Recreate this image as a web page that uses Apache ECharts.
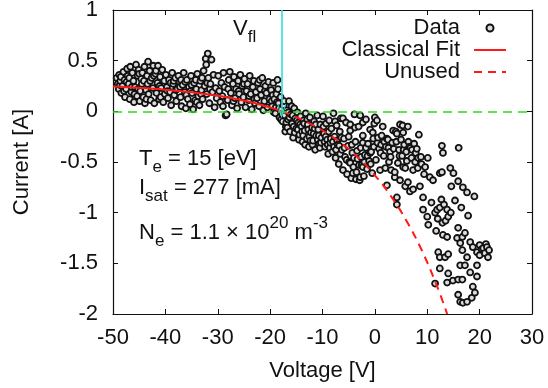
<!DOCTYPE html>
<html>
<head>
<meta charset="utf-8">
<script src="https://cdn.jsdelivr.net/npm/echarts@6/dist/echarts.min.js"></script>
<style>
  html, body { margin: 0; padding: 0; background: #fff; }
  #main { width: 548px; height: 388px; }
</style>
</head>
<body>
<div id="main"></div>
<script>
// measured probe points [voltage V, current A], split by voltage range
const pointsA = [
  [-49.3,0.33],[-49.1,0.27],[-48.9,0.22],[-48.8,0.36],[-48.7,0.26],[-48.6,0.30],[-48.5,0.34],[-48.4,0.18],[-48.2,0.25],
  [-48.0,0.39],[-47.9,0.20],[-47.8,0.31],[-47.7,0.14],[-47.5,0.22],[-47.4,0.29],[-47.3,0.42],[-47.2,0.35],[-47.0,0.27],
  [-46.9,0.33],[-46.8,0.12],[-46.7,0.44],[-46.5,0.19],[-46.4,0.24],[-46.3,0.38],[-46.1,0.30],[-46.0,0.09],[-45.9,0.17],
  [-45.8,0.24],[-45.6,0.46],[-45.4,0.15],[-45.3,0.35],[-45.2,0.22],[-45.1,0.41],[-45.0,0.37],[-44.9,0.10],[-44.8,0.20],
  [-44.6,0.32],[-44.5,0.27],[-44.4,0.38],[-44.2,0.14],[-44.1,0.30],[-44.0,0.44],[-43.9,0.08],[-43.7,0.21],[-43.6,0.12],
  [-43.5,0.35],[-43.4,0.27],[-43.3,0.49],[-43.2,0.17],[-43.0,0.40],[-42.9,0.30],[-42.8,0.11],[-42.6,0.33],[-42.4,0.23],
  [-42.3,0.45],[-42.2,0.35],[-42.1,0.08],[-41.9,0.37],[-41.8,0.40],[-41.7,0.18],[-41.5,0.28],[-41.4,0.45],[-41.2,0.12],
  [-41.1,0.25],[-41.0,0.34],[-40.9,0.14],[-40.8,0.23],[-40.6,0.41],[-40.4,0.09],[-40.2,0.30],[-40.1,0.17]
];
const pointsB = [
  [-39.9,0.36],[-39.7,0.24],[-39.6,0.20],[-39.5,0.13],[-39.3,0.31],[-39.1,0.19],[-39.0,0.28],[-38.9,0.06],[-38.7,0.38],
  [-38.5,0.27],[-38.4,0.30],[-38.3,0.16],[-38.1,0.33],[-38.0,0.21],[-37.9,0.10],[-37.7,0.22],[-37.5,0.35],[-37.3,0.29],
  [-37.2,0.24],[-37.1,0.14],[-37.0,0.31],[-36.9,0.05],[-36.7,0.26],[-36.5,0.38],[-36.3,0.19],[-36.2,0.29],[-36.1,0.03],
  [-36.0,0.16],[-35.9,0.31],[-35.7,0.12],[-35.5,0.24],[-35.3,0.07],[-35.2,0.20],[-35.1,0.35],[-35.0,0.26],[-34.9,0.18],
  [-34.7,0.02],[-34.5,0.28],[-34.3,0.11],[-34.2,0.31],[-34.1,0.22],[-34.0,0.09],[-33.9,0.37],[-33.7,0.15],[-33.5,0.06],
  [-33.3,0.30],[-33.2,0.17],[-33.1,0.21],[-33.0,0.33],[-32.9,0.12],[-32.7,0.40],[-32.5,0.25],[-32.3,0.52],[-32.2,0.46],
  [-32.1,0.17],[-32.0,0.28],[-31.9,0.57],[-31.8,0.33],[-31.6,0.08],[-31.5,0.22],[-31.4,0.27],[-31.2,0.51],[-31.0,0.19],
  [-30.8,0.36],[-30.6,0.04],[-30.4,0.23],[-30.2,0.13]
];
const pointsC = [
  [-29.9,0.35],[-29.7,0.20],[-29.5,0.09],[-29.3,0.28],[-29.1,0.15],[-29.0,0.05],[-28.9,0.38],[-28.7,0.24],[-28.5,-0.04],
  [-28.3,-0.03],[-28.1,0.11],[-28.0,0.22],[-27.9,0.31],[-27.7,0.39],[-27.5,0.18],[-27.3,0.06],[-27.1,0.27],[-27.0,0.10],
  [-26.9,0.34],[-26.7,0.13],[-26.5,0.22],[-26.3,0.03],[-26.1,0.30],[-26.0,0.20],[-25.9,0.17],[-25.7,0.36],[-25.5,0.09],
  [-25.3,0.25],[-25.1,0.14],[-25.0,0.27],[-24.9,0.32],[-24.7,0.04],[-24.5,0.20],[-24.3,0.27],[-24.1,0.11],[-24.0,0.15],
  [-23.9,0.35],[-23.7,0.17],[-23.5,0.02],[-23.3,0.24],[-23.1,0.30],[-23.0,0.12],[-22.9,0.08],[-22.7,0.19],[-22.5,0.13],
  [-22.3,0.28],[-22.1,0.05],[-22.0,0.31],[-21.9,0.22],[-21.7,0.16],[-21.5,0.33],[-21.3,0.01],[-21.1,0.10],[-21.0,0.20],
  [-20.9,0.25],[-20.7,0.18],[-20.5,0.04],[-20.3,0.29],[-20.1,0.12]
];
const pointsD = [
  [-19.8,0.21],[-19.7,0.10],[-19.6,0.05],[-19.5,0.16],[-19.4,0.28],[-19.3,-0.01],[-19.2,0.12],[-19.0,-0.02],[-18.9,0.04],
  [-18.8,0.17],[-18.7,0.09],[-18.6,0.31],[-18.5,0.22],[-18.4,0.08],[-18.3,0.03],[-18.2,-0.06],[-18.0,0.14],[-17.9,-0.08],
  [-17.8,0.02],[-17.7,-0.03],[-17.6,-0.10],[-17.4,0.06],[-17.3,0.10],[-17.2,-0.04],[-17.1,-0.20],[-17.0,-0.15],[-16.9,-0.11],
  [-16.8,0.01],[-16.7,-0.16],[-16.6,-0.08],[-16.5,-0.01],[-16.4,0.10],[-16.3,-0.06],[-16.2,-0.20],[-16.0,-0.03],[-15.9,0.05],
  [-15.8,-0.12],[-15.7,-0.04],[-15.6,-0.26],[-15.5,-0.15],[-15.4,0.03],[-15.3,-0.21],[-15.2,-0.07],[-15.0,-0.17],[-14.9,-0.09],
  [-14.8,-0.01],[-14.7,-0.18],[-14.6,-0.11],[-14.5,-0.28],[-14.4,-0.23],[-14.3,-0.13],[-14.2,-0.05],[-14.0,-0.15],[-13.9,-0.20],
  [-13.8,-0.30],[-13.7,-0.24],[-13.6,-0.09],[-13.5,-0.12],[-13.4,-0.19],[-13.3,-0.33],[-13.2,-0.02],[-13.0,-0.27],[-12.9,-0.08],
  [-12.8,-0.13],[-12.7,-0.18],[-12.6,-0.35],[-12.5,-0.25],[-12.4,-0.06],[-12.3,-0.29],[-12.2,-0.21],[-12.0,-0.16],[-11.9,-0.33],
  [-11.8,-0.29],[-11.7,-0.22],[-11.6,-0.10],[-11.5,-0.17],[-11.4,-0.38],[-11.3,-0.13],[-11.2,-0.24],[-11.0,-0.04],[-10.9,-0.28],
  [-10.8,-0.18],[-10.7,-0.24],[-10.6,-0.32],[-10.5,-0.36],[-10.4,-0.13],[-10.3,-0.31],[-10.2,-0.26]
];
const pointsE = [
  [-9.9,-0.05],[-9.8,-0.15],[-9.7,-0.22],[-9.6,-0.30],[-9.5,-0.35],[-9.4,-0.25],[-9.3,-0.12],[-9.1,-0.28],[-9.0,-0.33],
  [-8.9,-0.42],[-8.8,-0.20],[-8.7,-0.09],[-8.6,-0.36],[-8.5,-0.31],[-8.4,-0.27],[-8.3,-0.17],[-8.1,-0.40],[-8.0,-0.30],
  [-7.9,-0.02],[-7.8,-0.35],[-7.7,-0.25],[-7.6,-0.10],[-7.5,-0.46],[-7.4,-0.38],[-7.3,-0.14],[-7.2,-0.29],[-7.1,-0.33],
  [-6.9,-0.52],[-6.8,-0.34],[-6.7,-0.20],[-6.6,-0.42],[-6.5,-0.07],[-6.4,-0.26],[-6.3,-0.38],[-6.1,-0.58],[-6.1,-0.07],
  [-5.9,-0.27],[-5.8,-0.36],[-5.7,-0.45],[-5.5,-0.11],[-5.4,-0.48],[-5.3,-0.62],[-5.1,-0.34],[-5.0,-0.25],[-4.9,-0.50],
  [-4.7,-0.19],[-4.7,-0.13],[-4.7,-0.51],[-4.5,-0.66],[-4.4,-0.33],[-4.3,-0.41],[-4.2,-0.61],[-4.1,-0.55],[-4.0,-0.46],
  [-3.9,-0.03],[-3.8,-0.16],[-3.7,-0.30],[-3.6,-0.67],[-3.5,-0.60],[-3.4,-0.39],[-3.3,-0.47],[-3.1,-0.15],[-3.0,-0.53],
  [-2.9,-0.68],[-2.8,-0.04],[-2.8,-0.65],[-2.7,-0.36],[-2.6,-0.45],[-2.5,-0.53],[-2.3,-0.24],[-2.3,-0.11],[-2.3,-0.31],
  [-2.3,-0.55],[-2.1,-0.64],[-2.0,-0.50],[-1.9,-0.43],[-1.7,-0.08],[-1.7,-0.36],[-1.5,-0.57],[-1.4,-0.44],[-1.3,-0.32],
  [-1.1,-0.49],[-0.9,-0.18],[-0.9,-0.41],[-0.8,-0.52],[-0.7,-0.40],[-0.5,-0.61],[-0.4,-0.21],[-0.3,-0.27],[-0.2,-0.35],
  [-0.1,-0.12],[0.0,-0.06]
];
const pointsF = [
  [0.2,-0.48],[0.4,-0.09],[0.5,-0.31],[0.6,-0.26],[0.8,-0.37],[1.0,-0.58],[1.1,-0.41],[1.2,-0.33],[1.3,-0.24],[1.5,-0.15],
  [1.7,-0.44],[1.8,-0.30],[2.0,-0.56],[2.1,-0.35],[2.3,-0.27],[2.3,-0.73],[2.5,-0.28],[2.6,-0.36],[2.7,-0.50],[2.9,-0.40],
  [3.0,-0.45],[3.1,-0.58],[3.3,-0.31],[3.5,-0.19],[3.6,-0.37],[3.8,-0.65],[3.8,-0.60],[4.0,-0.20],[4.1,-0.30],[4.2,-0.85],
  [4.2,-0.92],[4.2,-0.22],[4.4,-0.51],[4.6,-0.38],[4.7,-0.44],[4.8,-0.13],[4.8,-0.68],[5.0,-0.28],[5.2,-0.44],[5.3,-0.14],
  [5.4,-0.21],[5.4,-0.55],[5.5,-0.38],[5.6,-0.33],[5.8,-0.74],[5.8,-0.56],[6.0,-0.40],[6.1,-0.49],[6.3,-0.15],[6.3,-0.70],
  [6.4,-0.30],[6.6,-0.35],[6.7,-0.79],[6.8,-0.36],[7.0,-0.46],[7.1,-0.38],[7.3,-0.58],[7.3,-0.77],[7.5,-0.32],[7.7,-0.50],
  [7.8,-0.41],[8.0,-0.37],[8.2,-0.56],[8.3,-0.46],[8.4,-0.23],[8.6,-0.74],[8.8,-0.45],[8.9,-0.52],[9.2,-0.85],[9.2,-0.97],
  [9.4,-0.62],[9.6,-0.55],[10.0,-1.04]
];
const pointsG = [
  [10.1,-0.46],[10.2,-1.12],[10.5,-0.65],[10.8,-0.90],[11.1,-0.68],[11.5,-1.70],[11.5,-1.00],[11.7,-1.18],[11.9,-0.97],
  [12.0,-1.06],[12.1,-1.39],[12.4,-0.61],[12.4,-0.95],[12.4,-1.44],[12.4,-1.55],[12.7,-0.87],[12.8,-0.34],[12.8,-0.60],
  [12.9,-1.10],[13.0,-0.41],[13.0,-1.22],[13.2,-0.92],[13.4,-1.44],[13.5,-1.08],[13.8,-0.97],[13.8,-1.24],[13.8,-1.69],
  [14.0,-1.04],[14.0,-1.41],[14.0,-1.60],[14.4,-0.56],[14.5,-1.00],[14.6,-0.74],[14.9,-1.67],[15.0,-0.61],[15.3,-0.88],
  [15.7,-1.25],[15.9,-0.69],[15.9,-1.15],[15.9,-1.66],[15.9,-1.81],[16.0,-0.36],[16.3,-1.30],[16.3,-1.52],[16.3,-1.88],
  [16.5,-0.95],[16.7,-1.24],[16.7,-1.37],[16.7,-1.66],[16.8,-0.75],[16.8,-1.89],[17.2,-1.20],[17.2,-1.52],[17.6,-0.80],
  [17.6,-1.44],[17.6,-1.88],[17.8,-1.03],[18.2,-1.29],[18.2,-1.59],[18.5,-1.84],[18.7,-1.34],[18.7,-1.73],[19.0,-0.84],
  [19.1,-1.79],[19.5,-1.39],[19.5,-1.52],[19.5,-1.63],[20.0,-1.32],[20.0,-1.42],[20.4,-1.36],[20.7,-1.35],[21.0,-1.40],
  [21.2,-1.31],[21.4,-1.34],[21.6,-1.44],[21.8,-1.37]
];

// classical fit
const fitVoltage = [-50, -45, -40, -35, -30, -25, -20, -17.8];
const fitCurrent = [0.245, 0.232, 0.214, 0.189, 0.154, 0.106, 0.038, 0];
const unusedVoltage = [-17.8, -15, -12, -9, -6, -3, 0, 3, 6, 9, 12, 13.8];
const unusedCurrent = [0, -0.057, -0.131, -0.221, -0.331, -0.466, -0.631, -0.832, -1.077, -1.376, -1.743, -2.0];

const VFL = -17.8;
const xTicks = { min: -50, max: 30, interval: 10 };
const yTicks = { min: -2, max: 1, interval: 0.5 };

const FONT = "'Liberation Sans', Arial, Helvetica, sans-serif";
const INK = '#111';
const RED = '#ff1a1a';

const zip = (xs, ys) => xs.map((x, i) => [x, ys[i]]);
const allPoints = [].concat(pointsA, pointsB, pointsC, pointsD, pointsE, pointsF, pointsG);

const chart = echarts.init(document.getElementById('main'), null, { renderer: 'canvas' });

const axisCommon = {
  axisLine: { show: true, onZero: false, lineStyle: { color: INK, width: 1.2 } },
  axisTick: { show: true, inside: true, length: 5, lineStyle: { color: INK, width: 1 } },
  splitLine: { show: false }
};

const rich = {
  m: { fontSize: 22, fontFamily: FONT, color: INK, verticalAlign: 'middle' },
  s: { fontSize: 17, fontFamily: FONT, color: INK, verticalAlign: 'middle', padding: [17, 0, 0, 0] },
  p: { fontSize: 17, fontFamily: FONT, color: INK, verticalAlign: 'middle', padding: [0, 0, 20, 0] }
};
const note = (x, y, text) => ({
  type: 'text', x: x, y: y, silent: true,
  style: { text: text, rich: rich, align: 'left', verticalAlign: 'middle', fill: INK, font: '22px ' + FONT }
});

const noDot = { color: 'rgba(0,0,0,0)', borderColor: 'rgba(0,0,0,0)', opacity: 0 };
// open arrow head, tip up, thin chevron
const openArrow = 'path://M0,12 L4,0 L8,12 L7,12 L4,3 L1,12 Z';

const option = {
  animation: false,
  backgroundColor: '#fff',
  grid: { left: 113, right: 16, top: 10, bottom: 74, containLabel: false, outerBoundsMode: 'none' },
  legend: {
    data: [
      { name: 'Data' },
      { name: 'Classical Fit', itemStyle: noDot },
      { name: 'Unused', itemStyle: noDot }
    ],
    orient: 'vertical',
    right: 36,
    top: 12,
    align: 'right',
    itemWidth: 32,
    itemHeight: 7,
    itemGap: 0,
    selectedMode: false,
    textStyle: { fontSize: 22, fontFamily: FONT, color: INK, lineHeight: 22, padding: [0, 9, 0, 0] }
  },
  xAxis: [
    Object.assign({
      type: 'value', position: 'bottom', min: xTicks.min, max: xTicks.max, interval: xTicks.interval,
      name: 'Voltage [V]', nameLocation: 'middle', nameGap: 46,
      nameTextStyle: { fontSize: 22, fontFamily: FONT, color: INK },
      axisLabel: { fontSize: 22, fontFamily: FONT, color: INK, margin: 13 }
    }, axisCommon),
    Object.assign({
      type: 'value', position: 'top', min: xTicks.min, max: xTicks.max, interval: xTicks.interval,
      axisLabel: { show: false }
    }, axisCommon)
  ],
  yAxis: [
    Object.assign({
      type: 'value', position: 'left', min: yTicks.min, max: yTicks.max, interval: yTicks.interval,
      name: 'Current [A]', nameLocation: 'middle', nameGap: 80, nameRotate: 90,
      nameTextStyle: { fontSize: 22, fontFamily: FONT, color: INK },
      axisLabel: { fontSize: 22, fontFamily: FONT, color: INK, margin: 15 }
    }, axisCommon),
    Object.assign({
      type: 'value', position: 'right', min: yTicks.min, max: yTicks.max, interval: yTicks.interval,
      axisLabel: { show: false }
    }, axisCommon)
  ],
  series: [
    {
      name: 'Data',
      type: 'scatter',
      data: allPoints,
      symbol: 'circle',
      symbolSize: 6,
      itemStyle: { color: '#dcdcdc', borderColor: INK, borderWidth: 1.8, opacity: 1 },
      z: 2
    },
    {
      name: 'Classical Fit',
      type: 'line',
      data: zip(fitVoltage, fitCurrent),
      smooth: 0.4,
      symbol: 'none',
      lineStyle: { color: RED, width: 2 },
      itemStyle: { color: RED },
      z: 3
    },
    {
      name: 'Unused',
      type: 'line',
      data: zip(unusedVoltage, unusedCurrent),
      smooth: 0.4,
      symbol: 'none',
      lineStyle: { color: RED, width: 2, type: [8, 6] },
      itemStyle: { color: RED },
      z: 3
    },
    {
      name: 'guides',
      type: 'line',
      data: [],
      z: 4,
      markLine: {
        silent: true,
        animation: false,
        label: { show: false },
        data: [
          [
            { coord: [xTicks.min, 0], symbol: 'none', lineStyle: { color: '#22dd22', width: 1.6, type: [9, 6] } },
            { coord: [xTicks.max, 0], symbol: 'none' }
          ],
          [
            { coord: [VFL, yTicks.max], symbol: 'none', lineStyle: { color: '#33dddd', width: 1.6, type: 'solid' } },
            { coord: [VFL, 0], symbol: openArrow, symbolSize: [9, 14] }
          ]
        ]
      }
    }
  ],
  graphic: [
    note(233, 29, '{m|V}{s|fl}'),
    note(139, 159, '{m|T}{s|e}{m| = 15 [eV]}'),
    note(139, 188, '{m|I}{s|sat}{m| = 277 [mA]}'),
    note(139, 233, '{m|N}{s|e}{m| = 1.1 × 10}{p|20}{m| m}{p|-3}')
  ]
};

chart.setOption(option);
</script>
</body>
</html>
